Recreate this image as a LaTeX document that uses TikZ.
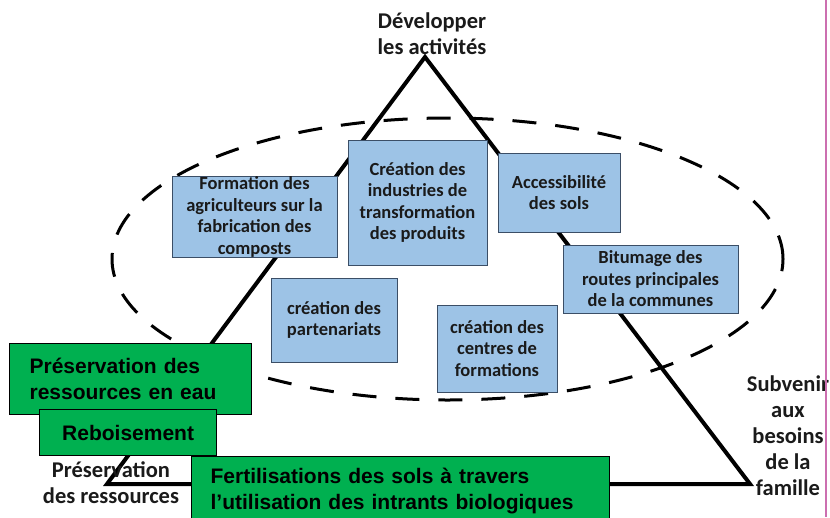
\documentclass[tikz,border=0pt]{standalone}
\usepackage{fontspec}
\setmainfont{Carlito}
\newfontfamily\arialfont{Liberation Sans}
\begin{document}
\begin{tikzpicture}[x=1pt,y=-1pt,
        caja/.style={draw=bordeazul,fill=azul,line width=1pt,inner sep=0pt,align=center,text=texto,
            font=\bfseries\fontsize{18.5}{21.5}\selectfont},
        verde/.style={draw=black,fill=vert,line width=1.2pt,inner sep=0pt,
            font=\arialfont\bfseries\fontsize{21}{26}\selectfont},
        etiqueta/.style={align=center,text=texto,font=\bfseries\fontsize{22.5}{26}\selectfont}]
        %colores
        \definecolor{azul}{HTML}{9DC3E6}
        \definecolor{bordeazul}{HTML}{3B4E66}
        \definecolor{vert}{HTML}{00B050}
        \definecolor{texto}{HTML}{1A1A1A}
        \definecolor{rose}{HTML}{CC6FB0}

        \useasboundingbox (0,0) rectangle (830,517);

        % Triangle
        \coordinate (sommet) at (425,57);
        \coordinate (gauche) at (107,484);
        \coordinate (droite) at (750,484);
        \draw[line width=4pt,line join=miter] (sommet) -- (gauche) -- (droite) -- cycle;

        % Ellipse en tirets
        \draw[line width=3pt,dash pattern=on 24pt off 19pt] (447.5,259) ellipse [x radius=335.5pt, y radius=141pt];

        % Cases bleues
        \node[caja,minimum width=165,minimum height=80] (formation) at (254.5,217) {Formation des\\agriculteurs sur la\\fabrication des\\composts};
        \node[caja,minimum width=139,minimum height=125] (industries) at (417.5,202.5) {Création des\\industries de\\transformation\\des produits};
        \node[caja,minimum width=122,minimum height=79] (acces) at (559,192.5) {Accessibilité\\des sols};
        \node[caja,minimum width=175,minimum height=68] (bitumage) at (650.5,279) {Bitumage des\\routes principales\\de la communes};
        \node[caja,minimum width=126,minimum height=84] (partenariats) at (334,320) {création des\\partenariats};
        \node[caja,minimum width=120,minimum height=87] (centres) at (497,348.5) {création des\\centres de\\formations};

        % Sommets
        \node[etiqueta] (developper) at (432,34) {Développer\\les activités};
        \node[etiqueta] (preservation) at (111,483) {Préservation\\des ressources};
        \node[etiqueta] (subvenir) at (788,436) {Subvenir\\aux\\besoins\\de la\\famille};

        % Cases vertes
        \node[verde,anchor=north west,minimum height=71,inner xsep=20pt,text width=202pt,align=left] (eau) at (9,343) {Préservation des\\ressources en eau};
        \node[verde,anchor=north west,minimum width=177,minimum height=46] (reboisement) at (39,409) {Reboisement};
        \node[verde,anchor=north west,minimum height=69,inner xsep=19pt,text width=380pt,align=left] (fertilisation) at (191,456) {Fertilisations des sols à travers\\l’utilisation des intrants biologiques};

        % bord
        \draw[rose,line width=2pt] (826,0) -- (826,517);
    \end{tikzpicture}
\end{document}
